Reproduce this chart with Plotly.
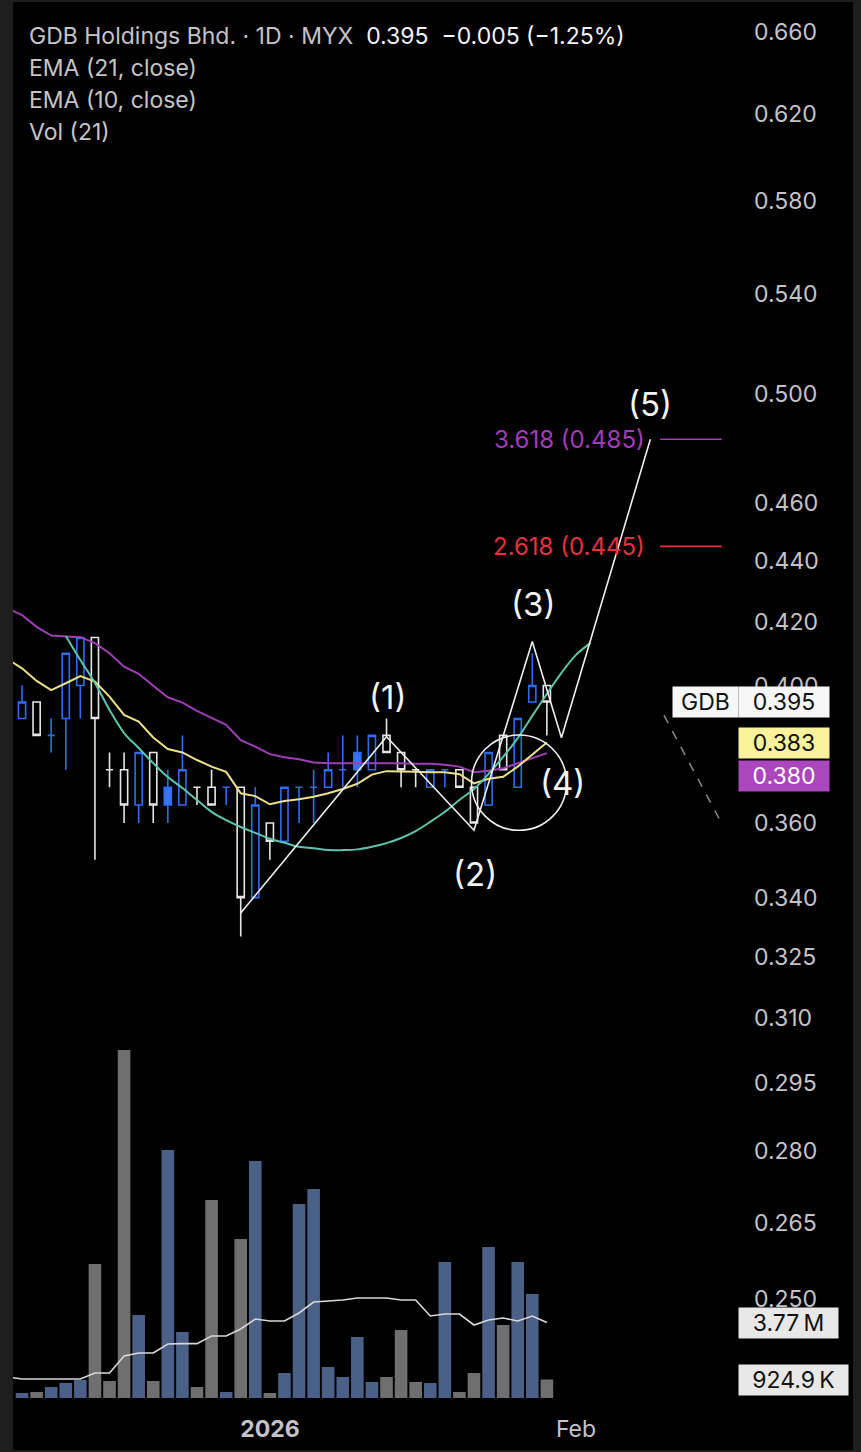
import math
import plotly.graph_objects as go

# ---------------- data ----------------
idx = list(range(37))
open_ = [0.390, 0.395, 0.385, 0.390, 0.400, 0.415, 0.375, 0.375, 0.365, 0.380,
         0.365, 0.365, 0.370, 0.370, 0.370, 0.370, 0.340, 0.360, 0.355, 0.370,
         0.370, 0.370, 0.375, 0.375, 0.375, 0.385, 0.380, 0.375, 0.370, 0.375,
         0.375, 0.370, 0.365, 0.385, 0.370, 0.395, 0.400]
high = [0.400, 0.395, 0.390, 0.410, 0.415, 0.415, 0.380, 0.380, 0.380, 0.380,
        0.375, 0.385, 0.370, 0.375, 0.370, 0.370, 0.370, 0.360, 0.370, 0.370,
        0.375, 0.380, 0.385, 0.385, 0.385, 0.390, 0.380, 0.375, 0.375, 0.375,
        0.375, 0.370, 0.380, 0.385, 0.390, 0.410, 0.400]
low = [0.390, 0.385, 0.380, 0.375, 0.390, 0.350, 0.370, 0.360, 0.360, 0.360,
       0.360, 0.365, 0.365, 0.365, 0.365, 0.330, 0.340, 0.350, 0.355, 0.360,
       0.360, 0.370, 0.370, 0.370, 0.375, 0.380, 0.370, 0.370, 0.370, 0.370,
       0.370, 0.360, 0.365, 0.375, 0.370, 0.395, 0.385]
close = [0.395, 0.385, 0.385, 0.410, 0.415, 0.390, 0.375, 0.365, 0.380, 0.365,
         0.370, 0.375, 0.370, 0.365, 0.370, 0.340, 0.365, 0.355, 0.370, 0.370,
         0.370, 0.375, 0.375, 0.380, 0.385, 0.380, 0.375, 0.375, 0.375, 0.375,
         0.370, 0.360, 0.380, 0.375, 0.390, 0.400, 0.395]
# B = blue hollow, W = white hollow, F = blue filled
style = ["B", "W", "B", "B", "B", "W", "W", "W", "B", "W",
         "F", "B", "W", "W", "B", "W", "B", "W", "B", "B",
         "B", "B", "B", "F", "B", "W", "W", "W", "B", "B",
         "W", "W", "B", "W", "B", "B", "W"]
volume_m = [0.25, 0.30, 0.55, 0.75, 0.90, 6.7, 0.85, 17.4, 4.15, 0.85,
            12.4, 3.3, 0.55, 9.9, 0.30, 7.95, 11.85, 0.25, 1.25, 9.7,
            10.45, 1.55, 1.05, 3.05, 0.80, 1.05, 3.4, 0.80, 0.75, 6.8,
            0.30, 1.25, 7.55, 3.65, 6.8, 5.2, 0.9249]

ind_x = list(range(-1, 37))
ema21 = [0.4243, 0.4222, 0.4184, 0.4156, 0.4153, 0.4151, 0.4132, 0.4100, 0.4058, 0.4036,
         0.3999, 0.3964, 0.3948, 0.3923, 0.3902, 0.3881, 0.3836, 0.3817, 0.3795, 0.3786,
         0.3780, 0.3771, 0.3769, 0.3769, 0.3769, 0.3770, 0.3769, 0.3769, 0.3767, 0.3767,
         0.3764, 0.3759, 0.3743, 0.3747, 0.3754, 0.3769, 0.3785, 0.3798]
ema10 = [0.4082, 0.4053, 0.4014, 0.3986, 0.4007, 0.4029, 0.4012, 0.3966, 0.3911, 0.3891,
         0.3844, 0.3810, 0.3800, 0.3778, 0.3759, 0.3744, 0.3683, 0.3675, 0.3652, 0.3661,
         0.3666, 0.3673, 0.3683, 0.3695, 0.3710, 0.3736, 0.3746, 0.3746, 0.3744, 0.3743,
         0.3743, 0.3737, 0.3711, 0.3724, 0.3730, 0.3759, 0.3793, 0.3829]
vol_ma_m = [1.05, 0.95, 0.95, 0.95, 0.95, 0.95, 1.25, 1.25, 2.1, 2.25,
            2.25, 2.7, 2.72, 2.72, 3.1, 3.1, 3.45, 3.95, 3.85, 3.85,
            4.25, 4.8, 4.85, 4.9, 5.0, 5.0, 5.0, 4.9, 4.9, 4.1,
            4.2, 4.2, 3.65, 3.9, 4.0, 3.85, 4.1, 3.77]

# drawings
cup_x = list(range(3, 40))
cup_y = [0.4155, 0.4079, 0.4008, 0.3926, 0.3857, 0.3813, 0.3769, 0.3729, 0.3698, 0.3664,
         0.3631, 0.3608, 0.3589, 0.3573, 0.3557, 0.3546, 0.3535, 0.3531, 0.3526, 0.3526,
         0.3528, 0.3535, 0.3545, 0.3559, 0.3578, 0.3603, 0.3631, 0.3664, 0.3695, 0.3738,
         0.3787, 0.3842, 0.3908, 0.3974, 0.4039, 0.4095, 0.4133]
wave_x = [15, 25, 31, 35, 37, 43.1]
wave_y = [0.336, 0.3846, 0.358, 0.4137, 0.3843, 0.4831]
wave_lbl = ["(1)", "(2)", "(3)", "(4)", "(5)"]
wave_lbl_x = [25.1, 31.1, 35.05, 37.1, 43.07]
wave_lbl_y = [0.3964, 0.3462, 0.4258, 0.3712, 0.4963]
circle_x = [30.83, 37.35]
circle_y = [0.358, 0.3851]
proj_x = [44.03, 47.87]
proj_y = [0.391, 0.3608]
fib_levels = [0.4831, 0.445]
fib_text = ["3.618 (0.485)", "2.618 (0.445)"]
fib_colors = ["#a23cb8", "#e5323e"]
fib_x = [43.76, 48.0]
fib_lbl_x = 42.86

price_ticks = [0.25, 0.265, 0.28, 0.295, 0.31, 0.325, 0.34, 0.36, 0.40,
               0.42, 0.44, 0.46, 0.50, 0.54, 0.58, 0.62, 0.66]
x_tick_pos = [17, 38]
x_tick_txt = ["<b>2026</b>", "Feb"]

# ---------------- layout geometry ----------------
W_PX, H_PX = 861, 1452
PL, PR, PT, PB = 13, 745, 2, 1398
def fx(px):
    return (px - PL) / (PR - PL)
def fy(py):
    return (PB - py) / (PB - PT)

FONT = "Inter, Roboto, sans-serif"
BLUE = "#2f6cf2"
WHITE = "#e6e6e6"
GRAY_TXT = "#c4c4c8"

fig = go.Figure()

# volume
vol_colors = ["#6f6f6f" if s == "W" else "#4a6086" for s in style]
fig.add_trace(go.Bar(x=idx, y=volume_m, marker_color=vol_colors, marker_line_width=0,
                     yaxis="y2", hoverinfo="skip"))
fig.add_trace(go.Scatter(x=ind_x, y=vol_ma_m, mode="lines", yaxis="y2",
                         line=dict(color="#d8d8d8", width=1.6), hoverinfo="skip"))

def candles(sel, lc, fc):
    xs = [i for i, s in enumerate(style) if s == sel]
    d = dict(line=dict(color=lc, width=1.6), fillcolor=fc)
    return go.Candlestick(x=xs, open=[open_[i] for i in xs], high=[high[i] for i in xs],
                          low=[low[i] for i in xs], close=[close[i] for i in xs],
                          increasing=d, decreasing=d, whiskerwidth=0, hoverinfo="skip")

fig.add_trace(candles("B", BLUE, "rgba(0,0,0,0)"))
fig.add_trace(candles("W", WHITE, "rgba(0,0,0,0)"))
fig.add_trace(candles("F", BLUE, "#3b74ea"))

fig.add_trace(go.Scatter(x=ind_x, y=ema21, mode="lines", line=dict(color="#9e3fb6", width=2)))
fig.add_trace(go.Scatter(x=ind_x, y=ema10, mode="lines", line=dict(color="#ece08a", width=2)))
fig.add_trace(go.Scatter(x=cup_x, y=cup_y, mode="lines", line=dict(color="#5ec4ae", width=2, shape="spline")))
fig.add_trace(go.Scatter(x=wave_x, y=wave_y, mode="lines", line=dict(color="#eeeeee", width=1.6)))
fig.add_trace(go.Scatter(x=proj_x, y=proj_y, mode="lines", line=dict(color="#8a8a8a", width=1.5, dash="dash")))
for lvl, col in zip(fib_levels, fib_colors):
    fig.add_trace(go.Scatter(x=fib_x, y=[lvl, lvl], mode="lines", line=dict(color=col, width=1.6)))

shapes = [
    dict(type="circle", xref="x", yref="y", x0=circle_x[0], x1=circle_x[1],
         y0=circle_y[0], y1=circle_y[1], line=dict(color="#eeeeee", width=1.6)),
]
BORDER = "#1e1e1e"
for x0, x1, y0, y1 in [(0, PL, 0, H_PX), (853, W_PX, 0, H_PX), (0, W_PX, 0, PT), (0, W_PX, 1450, H_PX)]:
    shapes.append(dict(type="rect", xref="paper", yref="paper", x0=fx(x0), x1=fx(x1),
                       y0=fy(y1), y1=fy(y0), fillcolor=BORDER, line=dict(width=0), layer="above"))

ann = []
nb = "\u00a0"
ann.append(dict(xref="paper", yref="paper", x=fx(27), y=fy(36), xanchor="left", yanchor="middle",
                showarrow=False, font=dict(family=FONT, size=23, color=GRAY_TXT),
                text=f"GDB Holdings Bhd. · 1D · MYX{nb}{nb}<span style='color:#f4f4f4'>0.395{nb}{nb}−0.005 (−1.25%)</span>"))
for txt, py in [("EMA (21, close)", 68), ("EMA (10, close)", 100), ("Vol (21)", 132)]:
    ann.append(dict(xref="paper", yref="paper", x=fx(27), y=fy(py), xanchor="left", yanchor="middle",
                    showarrow=False, font=dict(family=FONT, size=23, color=GRAY_TXT), text=txt))
for t, xx, yy in zip(wave_lbl, wave_lbl_x, wave_lbl_y):
    ann.append(dict(xref="x", yref="y", x=xx, y=math.log10(yy), showarrow=False,
                    font=dict(family=FONT, size=33, color="#f2f2f2"), text=t))
for t, lvl, col in zip(fib_text, fib_levels, fib_colors):
    ann.append(dict(xref="x", yref="y", x=fib_lbl_x, y=math.log10(lvl), xanchor="right", yanchor="middle",
                    showarrow=False, font=dict(family=FONT, size=24, color=col), text=t))

def box(text, px_left, width, yref, y, bg, fg):
    return dict(xref="paper", yref=yref, x=fx(px_left), y=y, xanchor="left", yanchor="middle",
                showarrow=False, width=width, height=30, borderpad=0, align="center",
                bgcolor=bg, font=dict(family=FONT, size=23, color=fg), text=text)

last = close[-1]
ann.append(box("GDB", 672, 65, "y", math.log10(last), "#f7f7f7", "#111111"))
ann.append(box(f"{last:.3f}", 738, 90, "y", math.log10(last), "#f7f7f7", "#111111"))
ann.append(box(f"{ema10[-1]:.3f}", 738, 90, "y", math.log10(ema10[-1]), "#fcf29b", "#111111"))
ann.append(box(f"{ema21[-1]:.3f}", 738, 90, "paper", fy(776), "#ab47bc", "#ffffff"))
ann.append(box(f"{vol_ma_m[-1]:.2f}\u2009M", 738, 99, "y2", vol_ma_m[-1], "#e8e8e8", "#111111"))
ann.append(box(f"{volume_m[-1]*1000:.1f}\u2009K", 738, 109, "y2", volume_m[-1], "#e8e8e8", "#111111"))

p_top = 0.66 * math.exp((32 - PT) / 1305)
p_bot = 0.66 * math.exp(-(PB - 32) / 1305)

fig.update_layout(
    width=W_PX, height=H_PX,
    margin=dict(l=PL, r=W_PX - PR, t=PT, b=H_PX - PB),
    paper_bgcolor="#000000", plot_bgcolor="#000000",
    showlegend=False, hovermode=False,
    bargap=0.135,
    shapes=shapes, annotations=ann,
    xaxis=dict(range=[-0.62, 49.59], showgrid=False, zeroline=False, showline=False,
               rangeslider=dict(visible=False), tickmode="array", tickvals=x_tick_pos,
               ticktext=x_tick_txt, ticks="", ticklabelstandoff=15,
               tickfont=dict(family=FONT, size=23, color=GRAY_TXT)),
    yaxis=dict(type="log", range=[math.log10(p_bot), math.log10(p_top)], side="right",
               showgrid=False, zeroline=False, showline=False, ticks="",
               tickmode="array", tickvals=price_ticks, ticktext=[f"{v:.3f}" for v in price_ticks],
               ticklabelstandoff=8, tickfont=dict(family=FONT, size=23, color=GRAY_TXT)),
    yaxis2=dict(overlaying="y", range=[0, 69.8], visible=False, showgrid=False),
)

fig.write_html("out.html")
